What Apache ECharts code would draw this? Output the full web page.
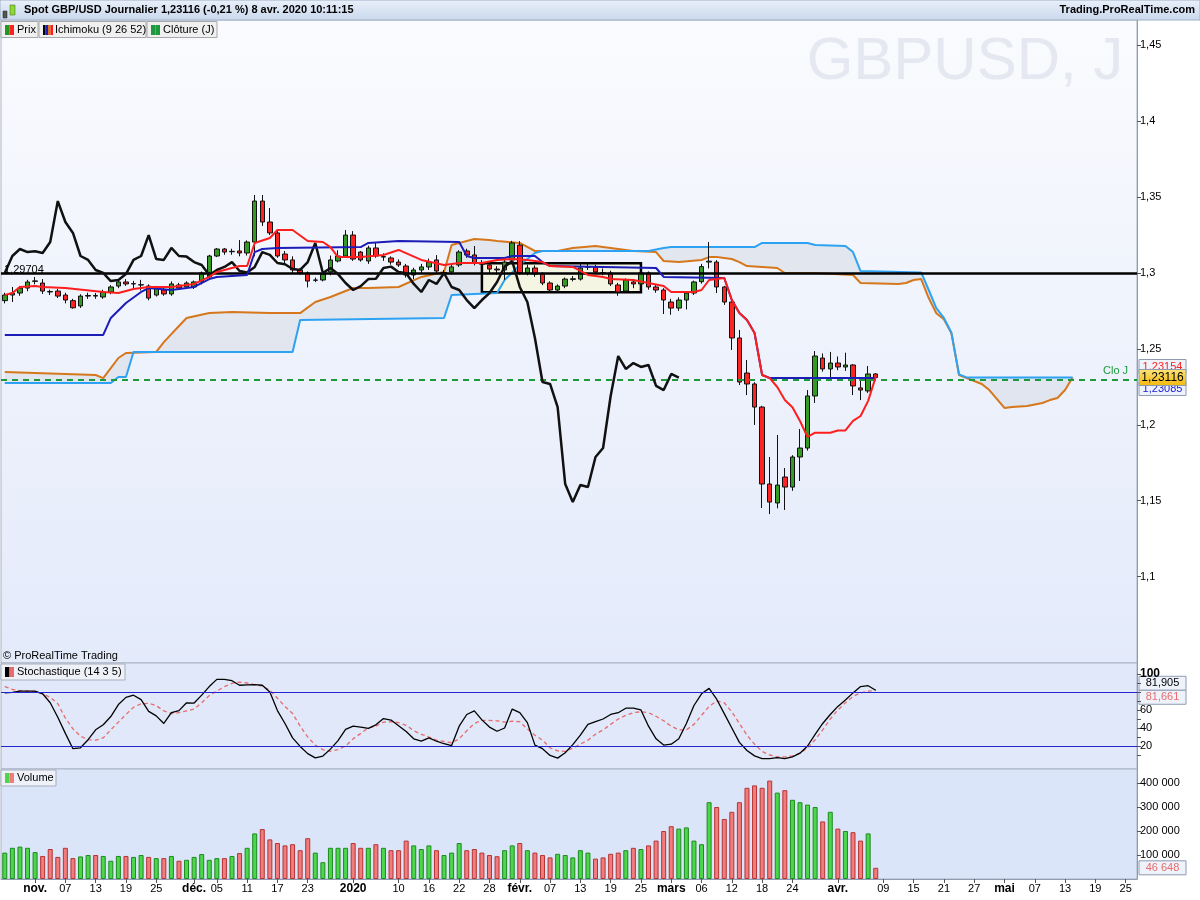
<!DOCTYPE html>
<html><head><meta charset="utf-8">
<script src="https://cdn.jsdelivr.net/npm/echarts@6/dist/echarts.min.js"></script>
<style>html,body{margin:0;padding:0;background:#fff}#c{width:1200px;height:900px}</style>
</head><body><div id="c"></div>
<script>
// ---------------- DATA ----------------
const opens = [1.2818,1.2855,1.2868,1.2901,1.2945,1.2934,1.2878,1.2881,1.2855,1.2818,
1.2783,1.2848,1.2852,1.2842,1.2875,1.2914,1.2941,1.2928,1.2921,1.2914,
1.2855,1.2888,1.2862,1.2921,1.2908,1.2908,1.2941,1.2974,1.3112,1.3158,
1.3140,1.3145,1.3132,1.3204,1.3474,1.3336,1.3264,1.3125,1.3086,1.3020,
1.3000,1.2952,1.2954,1.3007,1.3079,1.3112,1.3250,1.3138,1.3079,1.3165,
1.3105,1.3099,1.3072,1.3046,1.2987,1.3020,1.3040,1.3086,1.3000,1.3007,
1.3053,1.3145,1.3119,1.3066,1.3053,1.3026,1.3020,1.3086,1.3184,1.3000,
1.3033,1.2993,1.2934,1.2888,1.2914,1.2958,1.2960,1.3038,1.3040,1.3002,
1.3000,1.2921,1.2881,1.2941,1.2928,1.3000,1.2908,1.2888,1.2809,1.2769,
1.2822,1.2868,1.2943,1.3072,1.3072,1.2908,1.2809,1.2572,1.2341,1.2269,
1.2117,1.1610,1.1485,1.1656,1.1590,1.1788,1.1847,1.2190,1.2440,1.2368,
1.2407,1.2381,1.2394,1.2243,1.2223,1.2335];
const closes = [1.2855,1.2868,1.2901,1.2941,1.2948,1.2881,1.2875,1.2848,1.2822,1.2771,
1.2848,1.2852,1.2848,1.2875,1.2908,1.2941,1.2928,1.2930,1.2923,1.2835,
1.2908,1.2862,1.2928,1.2901,1.2934,1.2941,1.3000,1.3112,1.3158,1.3138,
1.3143,1.3132,1.3204,1.3474,1.3336,1.3264,1.3112,1.3086,1.3020,1.3000,
1.2947,1.2954,1.2993,1.3086,1.3112,1.3250,1.3092,1.3086,1.3165,1.3112,
1.3108,1.3072,1.3053,1.2987,1.3020,1.3040,1.3072,1.3013,1.3003,1.3040,
1.3138,1.3119,1.3066,1.3058,1.3026,1.3020,1.3072,1.3198,1.3000,1.3033,
1.2993,1.2934,1.2888,1.2914,1.2960,1.2962,1.3033,1.3042,1.3007,1.2998,
1.2928,1.2875,1.2954,1.2928,1.3000,1.2908,1.2888,1.2822,1.2769,1.2822,
1.2868,1.2941,1.3042,1.3078,1.2908,1.2809,1.2572,1.2282,1.2269,1.2117,
1.1610,1.1491,1.1603,1.1590,1.1788,1.1847,1.2190,1.2453,1.2368,1.2407,
1.2381,1.2394,1.2256,1.2229,1.2335,1.23116];
const lows = [1.2800,1.2809,1.2850,1.2880,1.2925,1.2862,1.2855,1.2835,1.2800,1.2765,
1.2770,1.2830,1.2830,1.2830,1.2860,1.2900,1.2915,1.2900,1.2885,1.2820,
1.2845,1.2850,1.2850,1.2890,1.2895,1.2895,1.2925,1.2960,1.3105,1.3120,
1.3120,1.3110,1.3115,1.3110,1.3310,1.3250,1.3100,1.3060,1.3000,1.2990,
1.2905,1.2940,1.2945,1.2985,1.3070,1.3105,1.3080,1.3075,1.3060,1.3100,
1.3080,1.3055,1.3040,1.2970,1.2960,1.3000,1.3020,1.2995,1.2985,1.2990,
1.3040,1.3100,1.3050,1.3040,1.2995,1.2990,1.2955,1.3075,1.2990,1.2985,
1.2975,1.2920,1.2870,1.2870,1.2900,1.2945,1.2950,1.3020,1.2995,1.2985,
1.2915,1.2850,1.2870,1.2900,1.2915,1.2890,1.2870,1.2730,1.2725,1.2750,
1.2760,1.2855,1.2930,1.3030,1.2868,1.2790,1.2493,1.2262,1.2196,1.1999,
1.1452,1.1412,1.1450,1.1439,1.1565,1.1630,1.1830,1.2144,1.2350,1.2300,
1.2360,1.2355,1.2196,1.2163,1.2210,1.2290];
const highs = [1.2870,1.2908,1.2915,1.2955,1.2974,1.2960,1.2890,1.2895,1.2870,1.2830,
1.2860,1.2870,1.2868,1.2890,1.2920,1.2950,1.2960,1.2948,1.2955,1.2925,
1.2915,1.2905,1.2945,1.2935,1.2945,1.2950,1.3010,1.3120,1.3165,1.3165,
1.3160,1.3217,1.3215,1.3514,1.3514,1.3428,1.3290,1.3145,1.3110,1.3030,
1.3010,1.2970,1.3010,1.3115,1.3150,1.3283,1.3276,1.3145,1.3180,1.3204,
1.3130,1.3110,1.3090,1.3060,1.3035,1.3060,1.3095,1.3118,1.3020,1.3060,
1.3150,1.3160,1.3178,1.3085,1.3070,1.3045,1.3090,1.3212,1.3210,1.3055,
1.3050,1.3005,1.2945,1.2925,1.2970,1.2980,1.3068,1.3065,1.3055,1.3030,
1.3015,1.2935,1.2965,1.2950,1.3015,1.3010,1.2925,1.2900,1.2830,1.2840,
1.2880,1.2950,1.3060,1.3204,1.3085,1.2915,1.2820,1.2625,1.2427,1.2280,
1.2125,1.1788,1.1933,1.1715,1.1800,1.1972,1.2229,1.2486,1.2470,1.2480,
1.2450,1.2475,1.2400,1.2290,1.2387,1.2340];
const volumes = [110000,130000,135000,130000,112000,96000,125000,92000,130000,87000,
94000,100000,100000,96000,76000,96000,96000,92000,100000,92000,
87000,87000,96000,76000,80000,92000,104000,80000,87000,87000,
96000,108000,130000,190000,208000,165000,150000,140000,145000,120000,
170000,110000,70000,130000,130000,130000,150000,130000,130000,145000,
130000,120000,120000,160000,140000,125000,140000,120000,100000,110000,
150000,120000,125000,110000,100000,95000,120000,140000,150000,120000,
110000,100000,90000,105000,100000,90000,120000,110000,85000,90000,
105000,110000,120000,130000,125000,140000,160000,200000,220000,210000,
215000,160000,145000,320000,300000,250000,280000,320000,380000,390000,
380000,410000,360000,370000,330000,320000,310000,300000,240000,280000,
210000,200000,195000,160000,190000,46648];
const stochK = [79,79.5,81,81,81,78,68,52,34,17, 18,27,38,43.6,52.7,66,74,76.4,71.5,58.5,
53.5,45,57,59.3,68,67.7,76.5,86,94,94, 92.5,87.5,88,88.2,87.5,80,59.3,45,29,19.5,
11.5,6.8,8.8,16.5,26,38.5,42,41,39.5,43.5, 50.5,48.8,42.5,36,28,25.5,29,25.3,22.5,20.5,
42,55,59,49,41,36.4,40,61,57,46, 21,17,9.5,6.5,12.5,21.5,32,44,47,50,
55,57,62,62,60,42,28,21,22,28, 45,65,78,84,72,56,40,24,15,9,
6,6,7,6,8,12,20,33,45,55, 64,71,79,86,87,81.905];
const stochD = [86,83,81.5,81,80.4,78,74,67,51,39, 31,27,26.5,29,38,46.5,55,63,67,67.5,
64.7,59,56,57,59,61,68,76,81,86, 89.5,91,90,88,86.5,82,73,64,56,42,
30,21,16,14,16,20,28,34,40,42, 46.5,47,46,43,37,33,30,26.5,25,23.6,
28,37,45,48.4,48.4,48,46.5,47.5,47,39, 32,26.5,18,14.5,14,17.5,22,26.5,33,38,
44,50,54,57,58,57,53,48,42,38, 38,44,54,64,70,68,58,45,32,22,
14,10,8,8,9,12,18,27,38,50, 60,68,75,79,81,81.661];
// Ichimoku lines: [bar index, price] vertices
const tenkan = [[0,1.2855],[1,1.2868],[2,1.2908],[4,1.2914],[5,1.2908],[8,1.2901],[13,1.2875],[15,1.2868],[17,1.2895],[19,1.2908],[22,1.2908],[25,1.2928],[27,1.2974],[28,1.3007],[31,1.3046],[32,1.3046],[33,1.3198],[35,1.3231],[36,1.3283],[38,1.3283],[40,1.3211],[42,1.3204],[43,1.3171],[44,1.3105],[47,1.3105],[50,1.3119],[52,1.3152],[55,1.3086],[58,1.3053],[60,1.3066],[63,1.3066],[65,1.3086],[67,1.3092],[69,1.3086],[71,1.3072],[72,1.3046],[75,1.3040],[77,1.2987],[79,1.2974],[80,1.2960],[83,1.2954],[87,1.2914],[88,1.2875],[91,1.2875],[92,1.2888],[93,1.2954],[95,1.2967],[96,1.2822],[97,1.2736],[98,1.2690],[99,1.2605],[100,1.2328],[101,1.2308],[102,1.2249],[103,1.2164],[104,1.2116],[105,1.2025],[106,1.1920],[107,1.1948],[109,1.1948],[110,1.1963],[111,1.1963],[112,1.2026],[113,1.2058],[114,1.2158],[115,1.23154]];
const kijun = [[0,1.2592],[13,1.2592],[14,1.2704],[16,1.2802],[18,1.2875],[19,1.2901],[22,1.2888],[25,1.2908],[27,1.2960],[28,1.2974],[32,1.2987],[33,1.3138],[34,1.3158],[36,1.3165],[47,1.3171],[48,1.3198],[52,1.3211],[60,1.3204],[61,1.3112],[62,1.3099],[66,1.3099],[67,1.3112],[70,1.3112],[71,1.3072],[72,1.3046],[86,1.3033],[87,1.2974],[95,1.2967],[96,1.2822],[97,1.2736],[98,1.2690],[99,1.2605],[100,1.2328],[101,1.23085],[115,1.23085]];
const spanA = [[0,1.2348],[12,1.2328],[13,1.2308],[15,1.2440],[16,1.2473],[20,1.2480],[21,1.2545],[23,1.2651],[24,1.2704],[27,1.2736],[30,1.2743],[35,1.2736],[39,1.2736],[41,1.2809],[43,1.2842],[46,1.2901],[48,1.2901],[52,1.2908],[55,1.2974],[58,1.3007],[59,1.3184],[60,1.3198],[62,1.3224],[64,1.3217],[65,1.3211],[68,1.3198],[70,1.3145],[73,1.3145],[75,1.3165],[78,1.3178],[80,1.3165],[83,1.3145],[86,1.3138],[87,1.3079],[89,1.3072],[92,1.3086],[93,1.3105],[94,1.3105],[96,1.3092],[97,1.3072],[98,1.3046],[102,1.3033],[103,1.3000],[107,1.3000],[112,1.2987],[113,1.2934],[118,1.2928],[119,1.2934],[120,1.2954],[121,1.2960],[122,1.2835],[123,1.2735],[124,1.2695],[125,1.2603],[126,1.2328],[127,1.2308],[129,1.2269],[130,1.2229],[132,1.2111],[133,1.2117],[135,1.2124],[137,1.2144],[138,1.2163],[139,1.2177],[140,1.2229],[141,1.2311]];
const spanB = [[0,1.2275],[14,1.2275],[15,1.2315],[16,1.2315],[17,1.2480],[38,1.2480],[39,1.2690],[58,1.2704],[59,1.2855],[65,1.2868],[66,1.2954],[68,1.3053],[70,1.3132],[71,1.3145],[85,1.3145],[87,1.3165],[88,1.3171],[99,1.3171],[100,1.3198],[106,1.3198],[107,1.3184],[111,1.3178],[112,1.3138],[113,1.3013],[121,1.3004],[122,1.2888],[123,1.2769],[124,1.2704],[125,1.2606],[126,1.2332],[127,1.2312],[141,1.2312]];
const chikouShift = 26;
const refLevel = 1.29704;
const lastClose = 1.23116;
const zoneBox = {from: 63, to: 84, top: 1.3064, bottom: 1.2873};
const priceTicks = [1.1,1.15,1.2,1.25,1.3,1.35,1.4,1.45];
const stochLabels = [20,40,60,100];
const stochTicks = [10,20,30,40,50,60,70,80,90,100];
const volTicks = [100000,200000,300000,400000];
const tickLabels = [['2019-11-01','nov.'],['2019-11-07','07'],['2019-11-13','13'],['2019-11-19','19'],['2019-11-25','25'],
['2019-12-02','déc.'],['2019-12-05','05'],['2019-12-11','11'],['2019-12-17','17'],['2019-12-23','23'],
['2020-01-02','2020'],['2020-01-10','10'],['2020-01-16','16'],['2020-01-22','22'],['2020-01-28','28'],
['2020-02-03','févr.'],['2020-02-07','07'],['2020-02-13','13'],['2020-02-19','19'],['2020-02-25','25'],
['2020-03-02','mars'],['2020-03-06','06'],['2020-03-12','12'],['2020-03-18','18'],['2020-03-24','24'],
['2020-04-01','avr.'],['2020-04-09','09'],['2020-04-15','15'],['2020-04-21','21'],['2020-04-27','27'],
['2020-05-01','mai'],['2020-05-07','07'],['2020-05-13','13'],['2020-05-19','19'],['2020-05-25','25']];
const boldLabels = ['nov.','déc.','2020','févr.','mars','avr.','mai'];
const closedDays = ['2019-12-25','2020-01-01'];

// ---------------- CALENDAR (trading days) ----------------
const categories = [];
for (let d = new Date(Date.UTC(2019,9,28)); d <= new Date(Date.UTC(2020,4,26)); d.setUTCDate(d.getUTCDate()+1)) {
  const wd = d.getUTCDay(); if (wd === 0 || wd === 6) continue;
  const s = d.toISOString().slice(0,10); if (closedDays.includes(s)) continue;
  categories.push(s);
}
const labelMap = Object.fromEntries(tickLabels);

// ---------------- BUILD ----------------
const FONT = 'Liberation Sans, Arial, sans-serif';
const candles = opens.map((o,i)=>[o, closes[i], lows[i], highs[i]]);
const chikou = closes.slice(chikouShift).map((c,i)=>[i,c]);
const volData = volumes.map((v,i)=>{
  const up = closes[i] >= opens[i];
  return {value:v, itemStyle:{color: up?'#4cd64c':'#f27b7b', borderColor: up?'#1f8a1f':'#b53434', borderWidth:1}};
});
const showTick = (i, v) => labelMap[v] !== undefined;
const fmtPrice = v => String(+v.toFixed(2)).replace('.', ',');

function xAx(gi, show) {
  return {type:'category', gridIndex:gi, data:categories, boundaryGap:true,
    axisLine:{show:show, lineStyle:{color:'#8f9bb0'}},
    axisTick:{show:show, interval:showTick, alignWithLabel:true, length:4, lineStyle:{color:'#555'}},
    axisLabel:{show:show, interval:showTick, margin:4, color:'#000', fontSize:11, fontFamily:FONT,
      formatter: v => { const t = labelMap[v]; if (!t) return ''; return boldLabels.includes(t) ? '{b|'+t+'}' : t; },
      rich:{b:{fontWeight:'bold', fontSize:12, fontFamily:FONT, color:'#000'}}},
    splitLine:{show:false}};
}
function yAx(gi, min, max, ticks, labels, fmt) {
  return {type:'value', gridIndex:gi, position:'right', min:min, max:max, scale:true,
    axisLine:{show:true, lineStyle:{color:'#8f9bb0'}},
    axisTick:{show:true, customValues:ticks, length:4, lineStyle:{color:'#555'}},
    axisLabel:{customValues:labels, formatter:fmt, color:'#000', fontSize:11, fontFamily:FONT, margin:3,
      rich:{b:{fontWeight:'bold', fontSize:12, fontFamily:FONT, color:'#000'}}},
    splitLine:{show:false}};
}
const line = (name, data, color, width, z, extra) => Object.assign({name, type:'line', data, xAxisIndex:0, yAxisIndex:0,
  symbol:'none', lineStyle:{color, width}, z, silent:true, animation:false}, extra||{});

const chart = echarts.init(document.getElementById('c'));
const option = {
  animation:false,
  backgroundColor:'#ffffff',
  grid:[
    {left:1, width:1136, top:20, height:643, show:true, borderColor:'#a9b3c4', borderWidth:1,
      backgroundColor:new echarts.graphic.LinearGradient(0,0,0,1,[{offset:0,color:'#fafbfe'},{offset:1,color:'#e3eafa'}])},
    {left:1, width:1136, top:663, height:106, show:true, borderColor:'#a9b3c4', borderWidth:1, backgroundColor:'#e0e8f9'},
    {left:1, width:1136, top:769, height:110, show:true, borderColor:'#a9b3c4', borderWidth:1, backgroundColor:'#dbe5f9'}
  ],
  xAxis:[xAx(0,false), xAx(1,false), xAx(2,true)],
  yAxis:[
    yAx(0, 1.04309, 1.46667, priceTicks, priceTicks, fmtPrice),
    yAx(1, -5.56, 112.2, stochTicks, stochLabels, v => v===100 ? '{b|100}' : String(v)),
    yAx(2, 0, 458333, volTicks, volTicks, v => (v/1000)+' 000')
  ],
  series:[
    {type:'custom', xAxisIndex:0, yAxisIndex:0, z:1, silent:true, data:[[0,1.3]], encode:{x:0,y:1},
      renderItem:(p, api) => {
        const pts = spanA.map(d=>api.coord(d)).concat(spanB.slice().reverse().map(d=>api.coord(d)));
        return {type:'polygon', shape:{points:pts}, style:{fill:'rgba(214,218,228,0.55)'}};
      }},
    {type:'custom', xAxisIndex:0, yAxisIndex:0, z:2, silent:true, data:[[zoneBox.from, zoneBox.top]], encode:{x:0,y:1},
      renderItem:(p, api) => {
        const a = api.coord([zoneBox.from, zoneBox.top]), b = api.coord([zoneBox.to, zoneBox.bottom]);
        return {type:'rect', shape:{x:a[0], y:a[1], width:b[0]-a[0], height:b[1]-a[1]},
          style:{fill:'rgba(244,246,222,0.85)', stroke:'#000', lineWidth:2.5}};
      }},
    line('Senkou A', spanA, '#d6771c', 2, 3),
    line('Senkou B', spanB, '#2ea2f2', 2, 3),
    {type:'candlestick', xAxisIndex:0, yAxisIndex:0, data:candles, barWidth:5, z:4, silent:true,
      itemStyle:{color:'#349a23', color0:'#ff2323', borderColor:'#111', borderColor0:'#111', borderWidth:1}},
    line('Chikou', chikou, '#111111', 2.5, 5),
    line('Kijun', kijun, '#1c1cb8', 2, 6),
    line('Tenkan', tenkan, '#ff1e1e', 2, 7),
    line('levels', [[115,lastClose]], '#000', 0, 8, {
      markLine:{silent:true, symbol:['none','none'], animation:false, label:{show:false},
        data:[{yAxis:refLevel, lineStyle:{color:'#000', width:2.5, type:'solid'}},
              {yAxis:lastClose, lineStyle:{color:'#1c9a3c', width:2, type:[6,5]}}]}}),
    {name:'%K', type:'line', xAxisIndex:1, yAxisIndex:1, data:stochK, symbol:'none', silent:true,
      lineStyle:{color:'#000', width:1.3}, z:4,
      markLine:{silent:true, symbol:['none','none'], label:{show:false}, animation:false,
        lineStyle:{color:'#2424d0', width:1, type:'solid'}, data:[{yAxis:80},{yAxis:20}]}},
    {name:'%D', type:'line', xAxisIndex:1, yAxisIndex:1, data:stochD, symbol:'none', silent:true,
      lineStyle:{color:'#e86c6c', width:1.3, type:[4,3]}, z:3},
    {name:'Volume', type:'bar', xAxisIndex:2, yAxisIndex:2, data:volData, barWidth:5, silent:true}
  ]
};
chart.setOption(option);

// ---------------- ANNOTATIONS ----------------
const yLast = chart.convertToPixel({yAxisIndex:0}, lastClose);
const yRef = chart.convertToPixel({yAxisIndex:0}, refLevel);
const yK = chart.convertToPixel({yAxisIndex:1}, stochK[stochK.length-1]);
const yVol = chart.convertToPixel({yAxisIndex:2}, volumes[volumes.length-1]);
const fmt5 = v => v.toFixed(5).replace('.', ',');
function box(y, txt, color, fill) {
  return {type:'group', z:100, children:[
    {type:'rect', shape:{x:1139, y:y-7, width:47, height:14}, style:{fill:fill, stroke:'#8e9bb0', lineWidth:1}},
    {type:'text', x:1162.5, y:y, style:{text:txt, fill:color, font:'11px '+FONT, align:'center', verticalAlign:'middle'}}]};
}
function legendBox(x, w, txt, icons) {
  const ch = [{type:'rect', shape:{x:x, y:21.5, width:w, height:16}, style:{fill:'#f0f0f0', stroke:'#a8a8a8', lineWidth:1}}];
  const iw = icons.length > 2 ? 2.5 : 4.5;
  icons.forEach((c,i)=>ch.push({type:'rect', shape:{x:x+4+i*iw, y:25, width:iw, height:10}, style:{fill:c}}));
  ch.push({type:'text', x:x+16, y:29.5, style:{text:txt, fill:'#000', font:'11px '+FONT, verticalAlign:'middle'}});
  return {type:'group', children:ch};
}
function panelBox(x, y, w, txt, icons) {
  const ch = [{type:'rect', shape:{x:x, y:y, width:w, height:16}, style:{fill:'#eef1f7', stroke:'#a8b0bc', lineWidth:1}}];
  icons.forEach((c,i)=>ch.push({type:'rect', shape:{x:x+4+i*4.5, y:y+3, width:4.5, height:10}, style:{fill:c}}));
  ch.push({type:'text', x:x+16, y:y+8, style:{text:txt, fill:'#000', font:'11px '+FONT, verticalAlign:'middle'}});
  return {type:'group', z:50, children:ch};
}
chart.setOption({graphic:[
  {type:'text', x:965, y:62, z:0, silent:true, style:{text:'GBPUSD, J', fill:'#e5e8f1', font:'60px '+FONT, align:'center', verticalAlign:'middle'}},
  {type:'rect', z:60, shape:{x:0, y:0, width:1200, height:20},
    style:{fill:new echarts.graphic.LinearGradient(0,0,0,1,[{offset:0,color:'#e9f0fa'},{offset:1,color:'#c9d8ec'}]), stroke:'#9fb0c6', lineWidth:1}},
  {type:'rect', z:61, shape:{x:3, y:11, width:4, height:7}, style:{fill:'#555', stroke:'#222', lineWidth:0.5}},
  {type:'rect', z:61, shape:{x:10, y:5, width:5, height:10}, style:{fill:'#8ed63a', stroke:'#3a6a10', lineWidth:0.5}},
  {type:'text', z:61, x:24, y:10, style:{text:'Spot GBP/USD Journalier 1,23116 (-0,21 %) 8 avr. 2020 10:11:15', fill:'#000', font:'bold 11px '+FONT, verticalAlign:'middle'}},
  {type:'text', z:61, x:1195, y:10, style:{text:'Trading.ProRealTime.com', fill:'#000', font:'bold 11px '+FONT, align:'right', verticalAlign:'middle'}},
  Object.assign(legendBox(1, 37, 'Prix', ['#1f9a1f','#ff2020']), {z:62}),
  Object.assign(legendBox(39, 107, 'Ichimoku (9 26 52)', ['#000','#1c1cb8','#d6771c','#ff1e1e']), {z:62}),
  Object.assign(legendBox(147, 70, 'Clôture (J)', ['#1c9a3c','#1c9a3c']), {z:62}),
  {type:'text', z:50, x:4, y:yRef-8, style:{text:fmt5(refLevel), fill:'#000', font:'11px '+FONT, verticalAlign:'middle'}},
  {type:'text', z:50, x:1103, y:yLast-7, style:{text:'Clo J', fill:'#1c9a3c', font:'11px '+FONT, verticalAlign:'middle'}},
  {type:'text', z:50, x:3, y:656, style:{text:'© ProRealTime Trading', fill:'#000', font:'11px '+FONT, verticalAlign:'middle'}},
  panelBox(1, 664, 124, 'Stochastique (14 3 5)', ['#000','#e86c6c']),
  panelBox(1, 770, 55, 'Volume', ['#4cd64c','#f27b7b']),
  box(yLast-11, '1,23154', '#ff2020', '#eef2fb'),
  box(yLast+11, '1,23085', '#2020d0', '#eef2fb'),
  {type:'group', z:110, children:[
    {type:'rect', shape:{x:1139, y:yLast-8, width:47, height:16},
      style:{fill:new echarts.graphic.LinearGradient(0,0,0,1,[{offset:0,color:'#fde47c'},{offset:1,color:'#f2b70a'}]), stroke:'#8e9bb0', lineWidth:1}},
    {type:'text', x:1162.5, y:yLast, style:{text:'1,23116', fill:'#000', font:'12px '+FONT, align:'center', verticalAlign:'middle'}}]},
  box(yK-7, '81,905', '#000', '#eef2fb'),
  box(yK+7, '81,661', '#e86c6c', '#eef2fb'),
  box(yVol, '46 648', '#e86c6c', '#eef2fb')
]});
</script>
</body></html>
